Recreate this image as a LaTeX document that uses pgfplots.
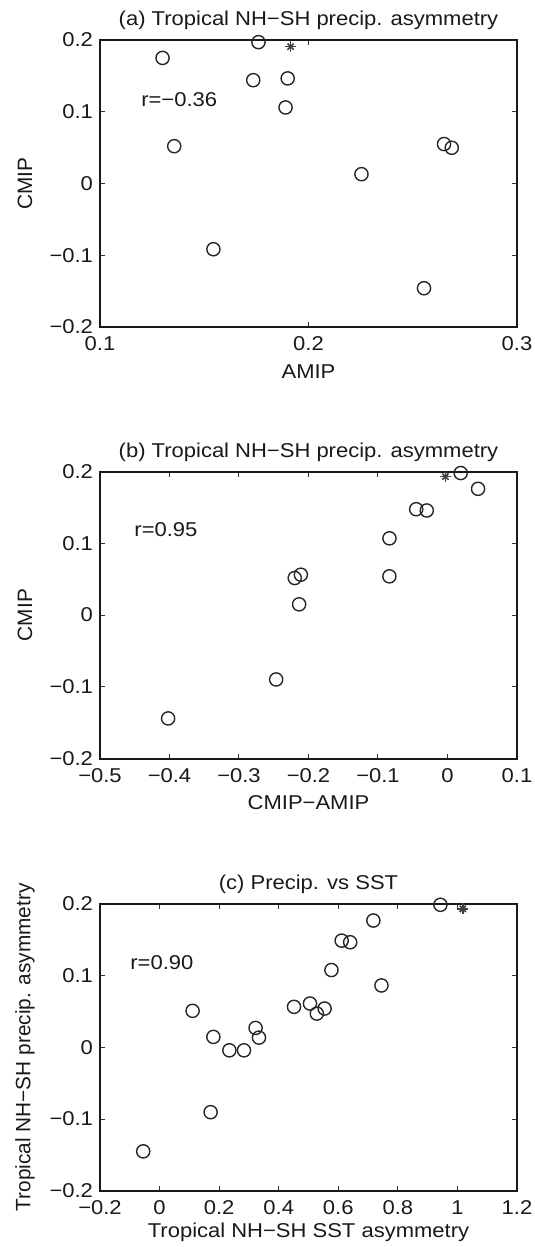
\documentclass[border=0pt]{standalone}
\usepackage{fontspec}
\setmainfont[FakeStretch=1.1]{Liberation Sans}
\newfontfamily\rotfont{Liberation Sans}
\usepackage{pgfplots}
\pgfplotsset{compat=1.18}

\tikzset{rtext/.style={anchor=west, inner sep=0pt, font=\fontsize{10}{12}\selectfont, black!90}}
\pgfplotsset{
  panel/.style={
    width=208.5pt, height=143.5pt, scale only axis,
    clip=false,
    axis line style={line width=1.1pt, black!90},
    tick align=inside, tick pos=both,
    major tick length=2.5pt,
    every tick/.style={black!80, line width=0.5pt},
    ymin=-0.2, ymax=0.2,
    ytick={-0.2,-0.1,0,0.1,0.2},
    yticklabels={−0.2,−0.1,0,0.1,0.2},
    tick label style={font=\fontsize{10}{12}\selectfont, black!90},
    xticklabel style={yshift=-1.2pt},
    every axis title/.style={at={(axis description cs:0.5,1.05)}, anchor=base, font=\fontsize{10}{12}\selectfont, black!90},
    every axis y label/.style={at={(axis description cs:-0.18,0.5)}, rotate=90, anchor=center, font=\rotfont\fontsize{10.4}{12}\selectfont, black!90},
    every axis x label/.style={at={(axis description cs:0.5,-0.155)}, anchor=center, font=\fontsize{10}{12}\selectfont, black!90},
  },
  circ/.style={only marks, mark=o, mark size=3.3pt, mark options={black!85, line width=0.7pt}},
  starA/.style={only marks, mark=+, mark size=2.7pt, mark options={black!75, line width=0.8pt}},
  starB/.style={only marks, mark=x, mark size=2.2pt, mark options={black!75, line width=0.8pt}},
}

\begin{document}
\begin{tikzpicture}
\useasboundingbox (-50pt,-460pt) rectangle (217.5pt,163.5pt);

% (a)
\begin{axis}[panel, at={(0pt,0pt)}, anchor=south west,
  xmin=0.1, xmax=0.3, xtick={0.1,0.2,0.3}, xticklabels={0.1,0.2,0.3},
  title={(a) Tropical NH−SH precip. asymmetry},
  xlabel={AMIP}, ylabel={CMIP},
  x label style={at={(axis description cs:0.5,-0.157)}}]
\addplot[circ] coordinates {
(0.130,0.175) (0.176,0.197) (0.1735,0.144) (0.190,0.1465) (0.189,0.106)
(0.1356,0.052) (0.265,0.055) (0.2687,0.0498) (0.2254,0.013)
(0.1544,-0.0916) (0.2554,-0.146)};
\addplot[starA] coordinates {(0.1914,0.1907)};
\addplot[starB] coordinates {(0.1914,0.1907)};
\node[rtext] at (axis cs:0.1196,0.1167) {r=−0.36};
\end{axis}

% (b)
\begin{axis}[panel, at={(0pt,-215.8pt)}, anchor=south west,
  xmin=-0.5, xmax=0.1, xtick={-0.5,-0.4,-0.3,-0.2,-0.1,0,0.1},
  xticklabels={−0.5,−0.4,−0.3,−0.2,−0.1,0,0.1},
  title={(b) Tropical NH−SH precip. asymmetry},
  xlabel={CMIP−AMIP}, ylabel={CMIP},
  x label style={at={(axis description cs:0.5,-0.153)}}]
\addplot[circ] coordinates {
(0.044,0.176) (0.019,0.198) (-0.0298,0.1458) (-0.045,0.1476) (-0.0835,0.107)
(-0.0836,0.054) (-0.211,0.0563) (-0.2198,0.0517) (-0.2135,0.015)
(-0.2465,-0.0897) (-0.402,-0.144)};
\addplot[starA] coordinates {(-0.003,0.193)};
\addplot[starB] coordinates {(-0.003,0.193)};
\node[rtext] at (axis cs:-0.451,0.119) {r=0.95};
\end{axis}

% (c)
\begin{axis}[panel, at={(0pt,-431.9pt)}, anchor=south west,
  xmin=-0.2, xmax=1.2, xtick={-0.2,0,0.2,0.4,0.6,0.8,1,1.2},
  xticklabels={−0.2,0,0.2,0.4,0.6,0.8,1,1.2},
  title={(c) Precip. vs SST},
  xlabel={Tropical NH−SH SST asymmetry}, ylabel={Tropical NH−SH precip. asymmetry},
  x label style={at={(axis description cs:0.5,-0.145)}}]
\addplot[circ] coordinates {
(0.9429,0.1986) (0.7177,0.1767) (0.6114,0.1487) (0.64,0.1464) (0.577,0.1077)
(0.745,0.0862) (0.4514,0.0564) (0.505,0.061) (0.528,0.047) (0.554,0.054)
(0.1109,0.0508) (0.3223,0.027) (0.3337,0.0135) (0.1806,0.0145)
(0.2343,-0.0042) (0.2834,-0.0042) (0.1714,-0.0904) (-0.0549,-0.145)};
\addplot[starA] coordinates {(1.018,0.193)};
\addplot[starB] coordinates {(1.018,0.193)};
\node[rtext] at (axis cs:-0.0994,0.118) {r=0.90};
\end{axis}
\end{tikzpicture}
\end{document}
